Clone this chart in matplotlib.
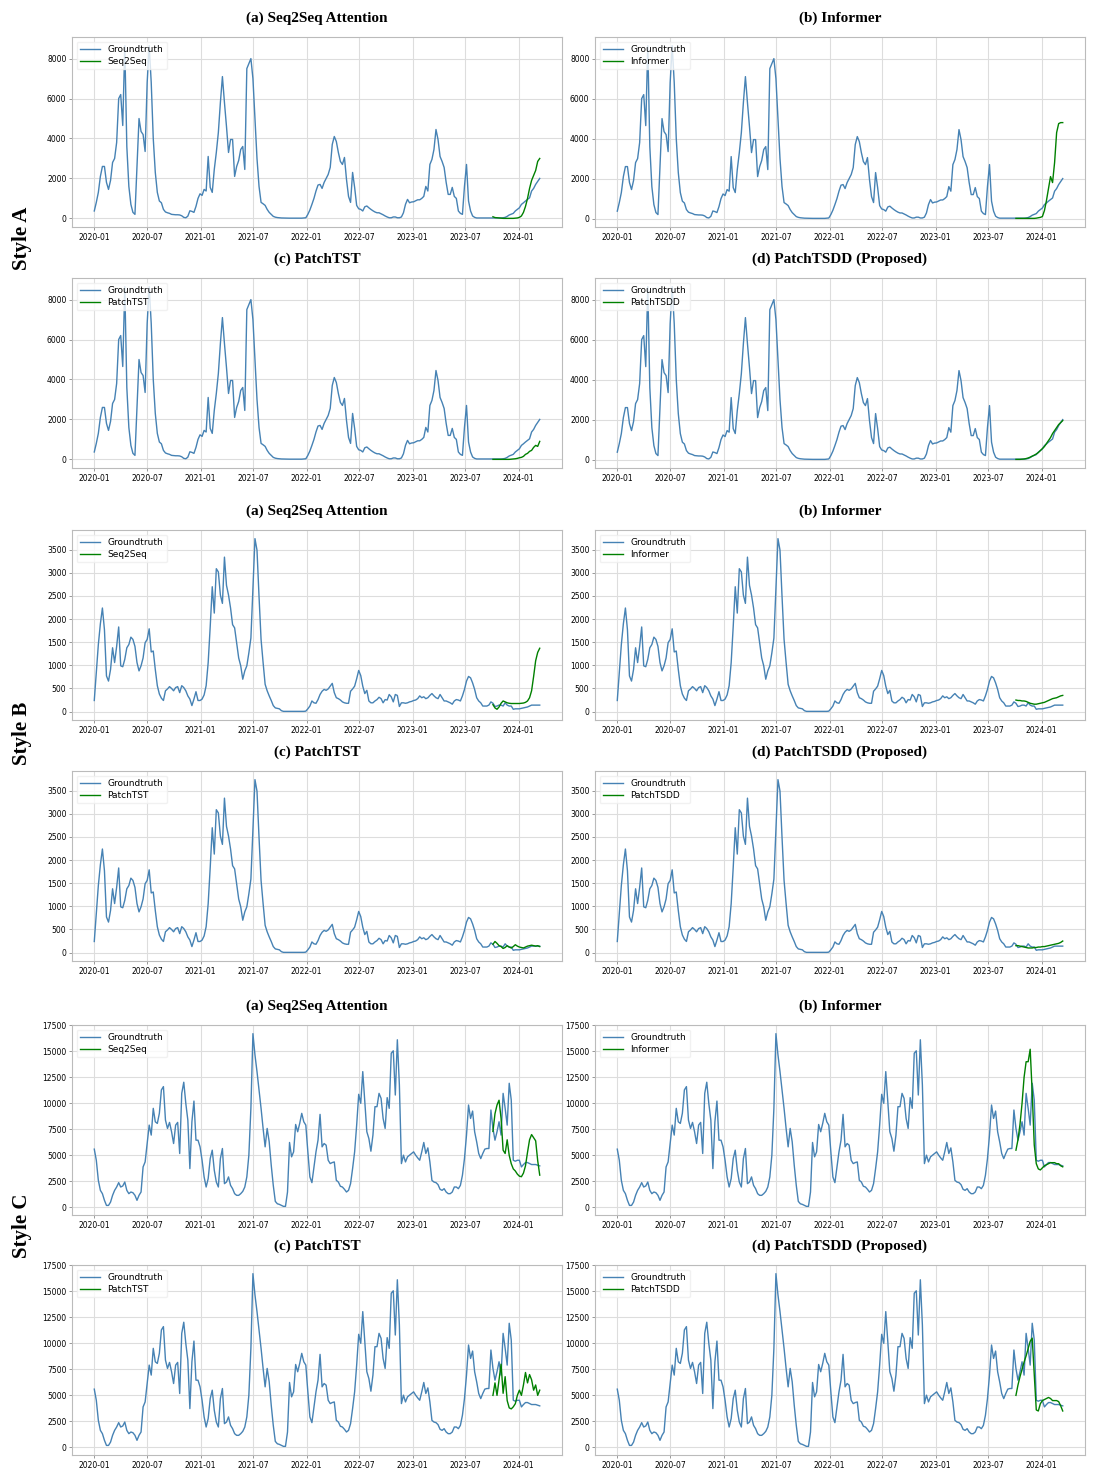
import numpy as np
import pandas as pd
import matplotlib
matplotlib.use("Agg")
import matplotlib.pyplot as plt
import matplotlib.dates as mdates

# weekly series, first week 2020-01-01
gt_a = [370, 800, 1300, 2100, 2600, 2600, 1800, 1450, 1900, 2800,
        3000, 3800, 6000, 6200, 4650, 8650, 3600, 1600, 700, 300,
        200, 2600, 5000, 4350, 4200, 3350, 6800, 8650, 6800, 4000,
        2300, 1300, 870, 780, 450, 320, 280, 250, 200, 190,
        180, 180, 170, 130, 50, 30, 110, 380, 350, 300,
        600, 1000, 1230, 1150, 1450, 1370, 3100, 1550, 1300, 2450,
        3300, 4300, 5800, 7100, 5800, 4600, 3300, 3950, 3950, 2100,
        2600, 2900, 3450, 3600, 2450, 7500, 7750, 8000, 7000, 5000,
        3000, 1600, 800, 730, 650, 450, 300, 200, 100, 60,
        40, 30, 20, 20, 15, 10, 10, 10, 10, 10, 10, 10, 10, 20,
        30, 200, 420, 700, 1000, 1370, 1670, 1700, 1500, 1800,
        2000, 2200, 2550, 3700, 4100, 3850, 3300, 2850, 2700, 3050,
        1950, 1100, 800, 2300, 1550, 650, 480, 450, 370, 580,
        620, 530, 450, 380, 320, 280, 280, 230, 180, 120,
        70, 30, 30, 70, 70, 30, 30, 70, 280, 700,
        950, 780, 820, 830, 880, 930, 930, 1000, 1100, 1600,
        1370, 2700, 2950, 3450, 4450, 3950, 3100, 2850, 2550, 1800,
        1200, 1200, 1550, 1100, 1000, 370, 250, 200, 1600, 2700,
        870, 370, 120, 50, 20, 20, 20, 20, 20, 20, 20, 20, 20, 20, 20, 20,
        20, 30, 50, 100, 170, 210, 250, 370, 450, 530,
        700, 780, 870, 950, 1030, 1370, 1500, 1700, 1850, 2000]

gt_b = [240, 840, 1450, 1900, 2240, 1770, 770, 660, 910, 1380,
        1060, 1410, 1830, 990, 970, 1130, 1380, 1450, 1610, 1560,
        1410, 1060, 880, 990, 1160, 1490, 1560, 1790, 1290, 1310,
        910, 560, 380, 290, 240, 450, 490, 540, 500, 450,
        520, 540, 410, 560, 520, 450, 340, 270, 130, 270,
        430, 240, 240, 270, 360, 560, 1060, 1840, 2700, 2130,
        3090, 3020, 2520, 2340, 3340, 2730, 2520, 2240, 1880, 1810,
        1490, 1160, 990, 700, 880, 990, 1270, 1590, 2640, 3740,
        3490, 2490, 1560, 1060, 590, 450, 340, 240, 130, 80,
        70, 60, 20, 5, 5, 5, 5, 5, 5, 5, 5, 5, 5, 5,
        10, 60, 120, 230, 190, 180, 260, 370, 440, 480,
        460, 490, 550, 610, 410, 300, 280, 250, 210, 190,
        180, 180, 440, 490, 550, 710, 890, 780, 550, 390,
        460, 230, 190, 190, 230, 260, 310, 280, 190, 260,
        250, 370, 320, 210, 370, 350, 110, 190, 190, 180,
        190, 210, 220, 240, 250, 280, 340, 300, 320, 280,
        300, 350, 390, 340, 300, 280, 370, 300, 230, 230,
        210, 190, 160, 230, 260, 250, 230, 340, 480, 660,
        760, 730, 620, 480, 300, 230, 190, 120, 120, 120,
        140, 210, 180, 110, 120, 140, 140, 120, 190, 140,
        120, 120, 50, 60, 60, 60, 70, 80, 90, 100,
        120, 140, 140, 140, 140, 140]

gt_c = [5600, 4530, 2600, 1640, 1320, 680, 190, 190, 510, 1160,
        1640, 1960, 2380, 1960, 2060, 2440, 1640, 1320, 1480, 1410,
        1160, 680, 1160, 1480, 3890, 4370, 6140, 7910, 6950, 9520,
        8230, 8070, 9040, 11290, 11610, 8390, 7590, 8170, 7270, 6140,
        7910, 8170, 5180, 10960, 12030, 10000, 8390, 3730, 8230, 10220,
        6460, 6460, 5820, 4530, 2930, 1960, 2770, 4690, 5500, 3570,
        2440, 1960, 4690, 5660, 2280, 2440, 2930, 2120, 1800, 1320,
        1160, 1160, 1320, 1540, 1960, 2930, 5020, 9520, 16700, 14660,
        13050, 11290, 9520, 7590, 5820, 7590, 6300, 4050, 2120, 580,
        350, 290, 190, 100, 100, 1480, 6240, 4860, 5340, 7970,
        7270, 8070, 9040, 8230,
        7910, 5340, 2930, 2380, 3890, 5340, 6460, 8940, 5820, 6140,
        5980, 4530, 4210, 4310, 4370, 2600, 2440, 2030, 1960, 1740,
        1480, 1640, 2280, 3730, 5340, 7910, 10870, 10000, 13050, 10160,
        7270, 6620, 5400, 6950, 9680, 9680, 10960, 10480, 8550, 7590,
        10550, 9520, 14820, 15050, 10800, 16110, 11770, 4210, 5020, 4370,
        4860, 5020, 5180, 5340, 5020, 4760, 4530, 5340, 6240, 5180,
        5720, 4370, 2600, 2440, 2380, 2190, 1740, 1640, 1800, 1480,
        1320, 1320, 1480, 1960, 1960, 1800, 2120, 3090, 4690, 6950,
        9840, 8550, 9260, 7270, 6300, 5180, 4690, 5180, 5600, 5660,
        5660, 9360, 7590, 6460, 7270, 8230, 6950, 10960, 9520, 7910,
        11930, 10320, 4530, 4440, 4530, 4530, 3890, 4120, 4310, 4310,
        4210, 4120, 4120, 4120, 4050, 3990]

# forecasts (last 24 weeks)
seq2seq_a = [80, 40, 30, 20, 10, 0, 0, 0, 0, 0, 0, 10, 20, 50, 120, 300,
             600, 1000, 1500, 1900, 2150, 2400, 2850, 3000]
informer_a = [10, 10, 10, 10, 10, 10, 10, 10, 10, 10, 20, 40, 60, 100, 400, 900,
              1500, 2100, 1800, 2800, 4300, 4750, 4800, 4800]
patchtst_a = [0, 0, 0, 0, 0, 0, 0, 0, 0, 10, 20, 30, 50, 80, 100, 150,
              250, 300, 400, 450, 600, 700, 650, 900]
patchtsdd_a = [10, 10, 10, 20, 30, 50, 80, 120, 170, 220, 280, 350, 450, 550,
               650, 800, 950, 1100, 1300, 1450, 1600, 1750, 1850, 1950]

seq2seq_b = [150, 80, 50, 100, 180, 230, 210, 190, 180, 175, 175, 175,
             175, 175, 180, 185, 200, 230, 300, 450, 760, 1100, 1280, 1370]
informer_b = [250, 240, 240, 230, 230, 220, 200, 180, 170, 160, 160, 170,
              180, 190, 200, 220, 240, 260, 280, 290, 300, 320, 340, 350]
patchtst_b = [180, 240, 200, 150, 130, 90, 110, 150, 120, 100, 130, 170,
              140, 120, 110, 100, 120, 140, 150, 160, 150, 140, 150, 130]
patchtsdd_b = [150, 150, 140, 130, 120, 110, 100, 100, 100, 110, 110, 120,
               120, 130, 130, 140, 150, 160, 170, 180, 190, 200, 220, 250]

seq2seq_c = [7300, 9000, 9840, 10300, 8550, 5500, 5180, 6500, 5000, 4200,
             3700, 3500, 3200, 3000, 2950, 3300, 4000, 5300, 6500, 7000,
             6700, 6400, 4500, 3100]
informer_c = [5500, 6500, 8000, 10000, 12500, 14000, 14000, 15200, 11000, 6000,
              4200, 3700, 3600, 3800, 4000, 4100, 4200, 4300, 4300, 4300,
              4200, 4200, 4000, 3900]
patchtst_c = [5000, 6200, 5000, 6500, 8000, 5200, 6800, 4500, 3800, 3700,
              3900, 4200, 5000, 5500, 5000, 6000, 7200, 6200, 7000, 6500,
              5500, 6000, 5000, 5500]
patchtsdd_c = [5000, 6000, 6800, 7500, 8200, 8800, 9500, 10200, 10500, 7000,
               3600, 3500, 4200, 4500, 4600, 4700, 4800, 4700, 4500, 4500,
               4500, 4400, 4000, 3500]

titles = ["(a) Seq2Seq Attention", "(b) Informer", "(c) PatchTST", "(d) PatchTSDD (Proposed)"]
model_names = ["Seq2Seq", "Informer", "PatchTST", "PatchTSDD"]
style_names = ["Style A", "Style B", "Style C"]
yticks_list = [[0, 2000, 4000, 6000, 8000],
               list(range(0, 3501, 500)),
               list(range(0, 17501, 2500))]

styles = [
    (gt_a, [seq2seq_a, informer_a, patchtst_a, patchtsdd_a]),
    (gt_b, [seq2seq_b, informer_b, patchtst_b, patchtsdd_b]),
    (gt_c, [seq2seq_c, informer_c, patchtst_c, patchtsdd_c]),
]

W, H = 1094, 1470
fig = plt.figure(figsize=(W / 100, H / 100), dpi=100)

row_tops = [37, 278, 530, 771, 1025, 1265]
col_lefts = [72, 595]
ax_w, ax_h = 490, 190
style_label_y = [238, 733, 1226]

for s, (gt, preds) in enumerate(styles):
    dates = pd.date_range("2020-01-01", periods=len(gt), freq="7D")
    for k in range(4):
        r = s * 2 + k // 2
        c = k % 2
        top = row_tops[r]
        ax = fig.add_axes([col_lefts[c] / W, 1 - (top + ax_h) / H, ax_w / W, ax_h / H])
        pred = preds[k]
        pdates = dates[-len(pred):]
        ax.plot(dates, gt, color="steelblue", lw=1.0, label="Groundtruth")
        ax.plot(pdates, pred, color="green", lw=1.0, label=model_names[k])
        ax.set_yticks(yticks_list[s])
        ax.xaxis.set_major_locator(mdates.MonthLocator(bymonth=[1, 7]))
        ax.xaxis.set_major_formatter(mdates.DateFormatter("%Y-%m"))
        ax.grid(True, color="#dddddd", lw=0.8)
        ax.tick_params(labelsize=5.5, length=2.5, width=0.6, color="#888888", pad=1.5)
        for sp in ax.spines.values():
            sp.set_color("#bbbbbb")
            sp.set_linewidth(0.8)
        ax.legend(loc="upper left", fontsize=6.5, frameon=True, handlelength=2.2,
                  borderpad=0.4, labelspacing=0.3, edgecolor="#eeeeee")
        ax.set_title(titles[k], fontsize=11, fontweight="bold",
                     family="Liberation Serif", pad=11)
    fig.text(22 / W, 1 - style_label_y[s] / H, style_names[s], rotation=90,
             fontsize=15, fontweight="bold", family="Liberation Serif",
             ha="center", va="center")

fig.savefig("out.png", dpi=100)
